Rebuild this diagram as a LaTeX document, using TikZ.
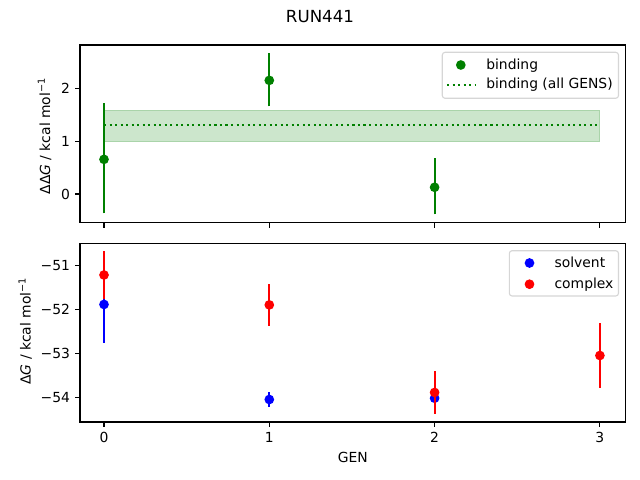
\documentclass[tikz,border=0pt]{standalone}
\usepackage{fontspec}
\setmainfont{DejaVu Sans}
\definecolor{mplgreen}{RGB}{0,128,0}
\definecolor{mplblue}{RGB}{0,0,255}
\definecolor{mplred}{RGB}{255,0,0}
\definecolor{legedge}{RGB}{214,214,214}
\definecolor{bandfill}{RGB}{204,230,204}
\definecolor{bandedge}{RGB}{170,212,170}
\tikzset{
  spine/.style={line width=0.8pt, draw=black},
  tickmark/.style={line width=0.8pt, draw=black},
  ticklab/.style={inner sep=0pt, font=\fontsize{10}{12}\selectfont},
  axlab/.style={inner sep=0pt, font=\fontsize{10}{12}\selectfont},
  ebar/.style={line width=1.5pt},
  dot/.style={circle, inner sep=0pt, minimum size=7pt, draw=none},
  legbox/.style={draw=legedge, line width=0.8pt, rounded corners=2pt, fill=white},
  legtext/.style={inner sep=0pt, anchor=base west, font=\fontsize{10}{12}\selectfont},
  dotline/.style={line width=1.5pt, dash pattern=on 1.5pt off 2.475pt}
}
\begin{document}
\begin{tikzpicture}[x=0.72pt, y=-0.72pt]
\useasboundingbox (0,0) rectangle (640,480);

% title
\node[inner sep=0pt, anchor=base, font=\fontsize{12}{14}\selectfont] (title) at (320,22.5) {RUN441};

% ---------------- top axes ----------------
\begin{scope}[shift={(104,194)}, x=119.016pt, y=38.052pt]
  \fill[bandfill] (0,1.0) rectangle (3,1.58);
  \draw[bandedge, line width=0.6pt] (0,1.0) rectangle (3,1.58);
  \draw[mplgreen, dotline] (0,1.30) -- (3,1.30);
  % GEN 0
  \draw[mplgreen, ebar] (0,-0.365) -- (0,1.72);
  \node[dot, fill=mplgreen] (b0) at (0,0.656) {};
  % GEN 1
  \draw[mplgreen, ebar] (1,1.66) -- (1,2.66);
  \node[dot, fill=mplgreen] (b1) at (1,2.15) {};
  % GEN 2
  \draw[mplgreen, ebar] (2,-0.384) -- (2,0.675);
  \node[dot, fill=mplgreen] (b2) at (2,0.127) {};
\end{scope}
\draw[spine] (80,45) rectangle (625.5,222.7);
% x ticks of top axes
\foreach \xx in {104,269.3,434.6,599.9} {
  \draw[tickmark] (\xx,222.7) -- (\xx,227.6);
}
% y ticks of top axes
\foreach \yy/\lab [count=\i] in {194/0,141.15/1,88.3/2} {
  \draw[tickmark] (80,\yy) -- (75.1,\yy);
  \node[ticklab, anchor=base east] (ty\i) at (70.3,\yy+5) {\lab};
}
\node[axlab, rotate=90, anchor=base] (ylabtop) at (50,136) {ΔΔ\textit{G} / kcal mol\textsuperscript{−1}};

% legend top
\draw[legbox] (442.3,52.3) rectangle (618.5,98.3);
\node[dot, fill=mplgreen] (lgb) at (460.8,65) {};
\draw[mplgreen, dotline] (447,84.7) -- (474.8,84.7);
\node[legtext] (lgbt) at (486,69.2) {binding};
\node[legtext] (lgat) at (486,88.9) {binding (all GENS)};

% ---------------- bottom axes ----------------
\begin{scope}[shift={(104,-1978.7)}, x=119.016pt, y=31.68pt]
  % solvent
  \draw[mplblue, ebar] (0,-52.76) -- (0,-51.02);
  \node[dot, fill=mplblue] (s0) at (0,-51.89) {};
  \draw[mplblue, ebar] (1,-54.22) -- (1,-53.87);
  \node[dot, fill=mplblue] (s1) at (1,-54.05) {};
  \draw[mplblue, ebar] (2,-54.12) -- (2,-53.92);
  \node[dot, fill=mplblue] (s2) at (2,-54.02) {};
  % complex
  \draw[mplred, ebar] (0,-51.76) -- (0,-50.68);
  \node[dot, fill=mplred] (c0) at (0,-51.22) {};
  \draw[mplred, ebar] (1,-52.37) -- (1,-51.43);
  \node[dot, fill=mplred] (c1) at (1,-51.90) {};
  \draw[mplred, ebar] (2,-54.37) -- (2,-53.41);
  \node[dot, fill=mplred] (c2) at (2,-53.89) {};
  \draw[mplred, ebar] (3,-53.78) -- (3,-52.32);
  \node[dot, fill=mplred] (c3) at (3,-53.05) {};
\end{scope}
\draw[spine] (80,243.3) rectangle (625.5,422);
% x ticks with labels
\foreach \xx/\lab [count=\i] in {104/0,269.3/1,434.6/2,599.9/3} {
  \draw[tickmark] (\xx,422) -- (\xx,426.9);
  \node[ticklab, anchor=base] (tx\i) at (\xx,442) {\lab};
}
% y ticks
\foreach \yy/\lab [count=\i] in {265.3/−51,309.3/−52,353.3/−53,397.3/−54} {
  \draw[tickmark] (80,\yy) -- (75.1,\yy);
  \node[ticklab, anchor=base east] (by\i) at (70.3,\yy+5) {\lab};
}
\node[axlab, rotate=90, anchor=base] (ylabbot) at (30.7,331) {Δ\textit{G} / kcal mol\textsuperscript{−1}};
\node[axlab, anchor=base] (xlab) at (352.75,462.3) {GEN};

% legend bottom
\draw[legbox] (509.3,250.7) rectangle (618.5,296);
\node[dot, fill=mplblue] (lgs) at (529.5,263) {};
\node[dot, fill=mplred] (lgc) at (529.5,284.2) {};
\node[legtext] (lgst) at (554.3,267.6) {solvent};
\node[legtext] (lgct) at (554.3,288.6) {complex};
\end{tikzpicture}
\end{document}
